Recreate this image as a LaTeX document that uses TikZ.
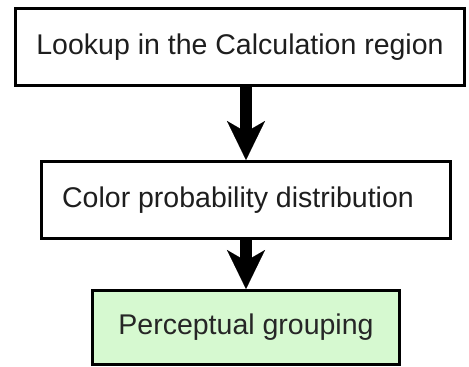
\documentclass[tikz,border=0pt]{standalone}
\usepackage{fontspec}
\setmainfont{Liberation Sans}
\usepackage{xcolor}
\usetikzlibrary{arrows.meta, positioning}
\definecolor{groupgreen}{RGB}{214,249,208}
\definecolor{txtgray}{RGB}{30,30,30}

\begin{document}
\begin{tikzpicture}[
		x=1pt, y=-1pt,
		stage/.style={draw, line width=3pt, minimum height=77pt, text=txtgray, font=\fontsize{28.5}{32}\selectfont, inner sep=0pt},
		flow/.style={line width=12pt, -{Stealth[length=39pt, width=38pt, inset=11pt, line width=0.1pt]}}
		]
		\useasboundingbox (0,0) rectangle (469,367);
		% Stages of the pipeline, top to bottom
		\node[stage, minimum width=449pt, fill=white] (lookup) at (240,47) {Lookup in the Calculation region};
		\node[stage, minimum width=409pt, fill=white] (distrib) at (246,200) {\hspace*{-16pt}Color probability distribution};
		\node[stage, minimum width=307pt, minimum height=74pt, fill=groupgreen, text=black!85] (group) at (246,327.5) {Perceptual grouping};
		
		% Downward flow arrows
		\draw[flow] (distrib.north |- lookup.south) -- (distrib.north);
		\draw[flow] (distrib.south) -- (group.north);
	\end{tikzpicture}
\end{document}
